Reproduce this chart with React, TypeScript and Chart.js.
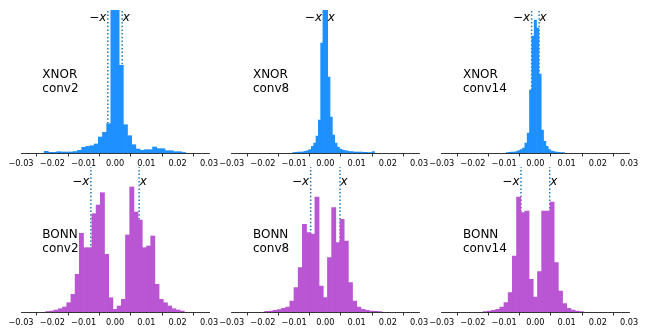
import React, { useEffect, useRef } from 'react';
import { Chart, registerables } from 'chart.js';
Chart.register(...registerables);

// ---- data ----
const tickValues = [-0.03, -0.02, -0.01, 0, 0.01, 0.02, 0.03];
const tickLabels = ['−0.03', '−0.02', '−0.01', '0.00', '0.01', '0.02', '0.03'];

const methods = ['XNOR', 'XNOR', 'XNOR', 'BONN', 'BONN', 'BONN'];
const layers = ['conv2', 'conv8', 'conv14', 'conv2', 'conv8', 'conv14'];
const thresholds = [0.0023, 0.0006, 0.0012, 0.0077, 0.0047, 0.0046];
const binWidths = [0.00133, 0.00075, 0.00075, 0.00134, 0.00134, 0.00134];
const firstBinCenters = [-0.021945, -0.010125, -0.009, -0.02144, -0.01876, -0.01608];

const xnorConv2 = [1.7, 0.7, 0.7, 1.3, 1, 1, 1, 1.5, 2.7, 5.7, 6.7, 7.3, 9, 16, 20.7, 29.3, 250, 300, 87.7, 28.3, 17.3, 8.3, 4, 2.7, 3.3, 3.3, 6, 4.3, 4.3, 2.3, 2.3, 1.3, 1.3, 0.5];
const xnorConv8 = [0.5, 0.7, 0.8, 1, 1.2, 1.7, 2.5, 3.5, 6.7, 10, 17, 33, 110, 260, 240, 76, 36, 18, 10, 6, 4, 3, 2.5, 2, 1.5, 1.3, 1, 1, 0.8, 0.8, 0.6, 0.6, 0.5, 0.5, 1.5];
const xnorConv14 = [0.5, 0.7, 0.8, 1, 1.5, 2.3, 3.5, 5, 10, 20, 63, 117, 133, 125, 79, 23, 11.7, 6.7, 3.3, 2, 1.3, 1, 0.7, 0.5, 0.4];
const bonnConv2 = [0.5, 1, 2, 3.3, 5, 9.3, 17.7, 37.7, 78.7, 64.3, 64.3, 98.3, 107, 119.3, 57.7, 14.3, 2.7, 6, 12.7, 77, 125, 100, 92, 64.3, 66, 76, 27.7, 12.7, 9.3, 6, 3.3, 2, 1];
const bonnConv8 = [0.7, 1, 1.7, 2.3, 3.7, 5, 11, 24.3, 44.3, 87.7, 79.3, 78, 115, 26, 14.3, 54.3, 104.3, 69.3, 92.7, 71, 29.3, 11, 5, 2.7, 1.7, 1, 0.7, 0.5];
const bonnConv14 = [0.5, 1, 1.7, 2.7, 5, 9.3, 19.3, 56, 115, 99.3, 101, 32.7, 15, 40.3, 101, 101, 110, 49.3, 21, 8.3, 3.7, 2, 1, 0.5];
const allCounts = [xnorConv2, xnorConv8, xnorConv14, bonnConv2, bonnConv8, bonnConv14];

const rowYMax = [143, 145];
const nameY = [75, 74];
const markY = [135, 130];
const nameX = -0.0232;

// ---- layout (styles) ----
const colors = ['#1E90FF', '#BA55D3'];
const lineColor = '#1f77b4';
const colAxisLeft = [21, 231.7, 441.7];
const colAxisWidth = [188, 187.3, 187.3];
const rowCanvasTop = [0, 164];
const rowCanvasHeight = [173, 164];
const rowPadTop = [10, 3];
const rowAxisHeight = [20, 16];
const CW = 230;

const textPlugin = {
  id: 'panelText',
  afterDatasetsDraw(chart: any, _args: any, opts: any) {
    const { ctx } = chart;
    const xs = chart.scales.x;
    const ys = chart.scales.y;
    ctx.save();
    ctx.fillStyle = '#000';
    const normal = '12px "DejaVu Sans"';
    const italic = 'italic 12px "DejaVu Sans"';
    ctx.font = normal;
    ctx.textAlign = 'left';
    ctx.textBaseline = 'alphabetic';
    const nx = xs.getPixelForValue(opts.nameX);
    const ny = ys.getPixelForValue(opts.nameY);
    opts.lines.forEach((l: string, i: number) => ctx.fillText(l, nx, ny + i * 14));
    const ly = ys.getPixelForValue(opts.markY);
    ctx.textBaseline = 'middle';
    const lx = xs.getPixelForValue(-opts.thr) - 1.5;
    ctx.font = italic;
    const wx = ctx.measureText('x').width;
    ctx.textAlign = 'right';
    ctx.fillText('x', lx, ly);
    ctx.font = normal;
    ctx.fillText('−', lx - wx, ly);
    const rx = xs.getPixelForValue(opts.thr) + 0.5;
    ctx.font = italic;
    ctx.textAlign = 'left';
    ctx.fillText('x', rx, ly);
    ctx.restore();
  },
};

function Panel({ idx }: { idx: number }) {
  const ref = useRef<HTMLCanvasElement>(null);
  const row = idx < 3 ? 0 : 1;
  const col = idx % 3;
  const canvasLeft = Math.floor(colAxisLeft[col]) - 20;
  const padL = colAxisLeft[col] - canvasLeft;
  const padR = CW - padL - colAxisWidth[col];
  const H = rowCanvasHeight[row];
  useEffect(() => {
    const counts = allCounts[idx];
    const ymax = rowYMax[row];
    const thr = thresholds[idx];
    const bars = counts.map((c, i) => ({ x: firstBinCenters[idx] + i * binWidths[idx], y: c }));
    const lineDs = (v: number) => ({
      type: 'line' as const,
      data: [{ x: v, y: 0 }, { x: v, y: ymax }],
      borderColor: lineColor,
      borderWidth: 1.5,
      borderDash: [1.5, 2.2],
      pointRadius: 0,
      fill: false,
    });
    const chart = new Chart(ref.current!, {
      type: 'bar',
      data: {
        datasets: [
          {
            type: 'bar',
            data: bars as any,
            backgroundColor: colors[row],
            borderWidth: 0,
            barPercentage: 1,
            categoryPercentage: 1,
          },
          lineDs(-thr) as any,
          lineDs(thr) as any,
        ],
      },
      options: {
        animation: false,
        responsive: false,
        devicePixelRatio: 1,
        events: [],
        layout: { padding: { left: padL, right: padR, top: rowPadTop[row], bottom: 0 } },
        plugins: {
          legend: { display: false },
          tooltip: { enabled: false },
          panelText: {
            lines: [methods[idx], layers[idx]],
            thr,
            nameX,
            nameY: nameY[row],
            markY: markY[row],
          },
        } as any,
        scales: {
          x: {
            type: 'linear',
            min: -0.03,
            max: 0.03,
            offset: false,
            afterBuildTicks: (s: any) => {
              s.ticks = tickValues.map((v) => ({ value: v }));
            },
            afterFit: (s: any) => {
              s.height = rowAxisHeight[row];
            },
            ticks: {
              autoSkip: false,
              maxRotation: 0,
              padding: 2.5,
              color: '#000',
              font: { family: 'DejaVu Sans', size: 8.2 },
              callback: (_v: any, i: number) => tickLabels[i],
            },
            grid: {
              display: true,
              drawOnChartArea: false,
              drawTicks: true,
              tickLength: 3.5,
              color: '#000',
              lineWidth: 0.8,
            },
            border: { display: true, color: '#000', width: 0.8 },
          },
          y: {
            type: 'linear',
            display: false,
            min: 0,
            max: ymax,
          },
        },
      },
      plugins: [textPlugin],
    });
    return () => chart.destroy();
  }, []);
  return (
    <canvas
      ref={ref}
      width={CW}
      height={H}
      style={{ position: 'absolute', left: canvasLeft, top: rowCanvasTop[row], width: CW, height: H }}
    />
  );
}

export default function App() {
  return (
    <div style={{ position: 'fixed', left: 0, top: 0, width: 645, height: 328, background: '#fff' }}>
      {[0, 1, 2, 3, 4, 5].map((i) => (
        <Panel key={i} idx={i} />
      ))}
    </div>
  );
}
